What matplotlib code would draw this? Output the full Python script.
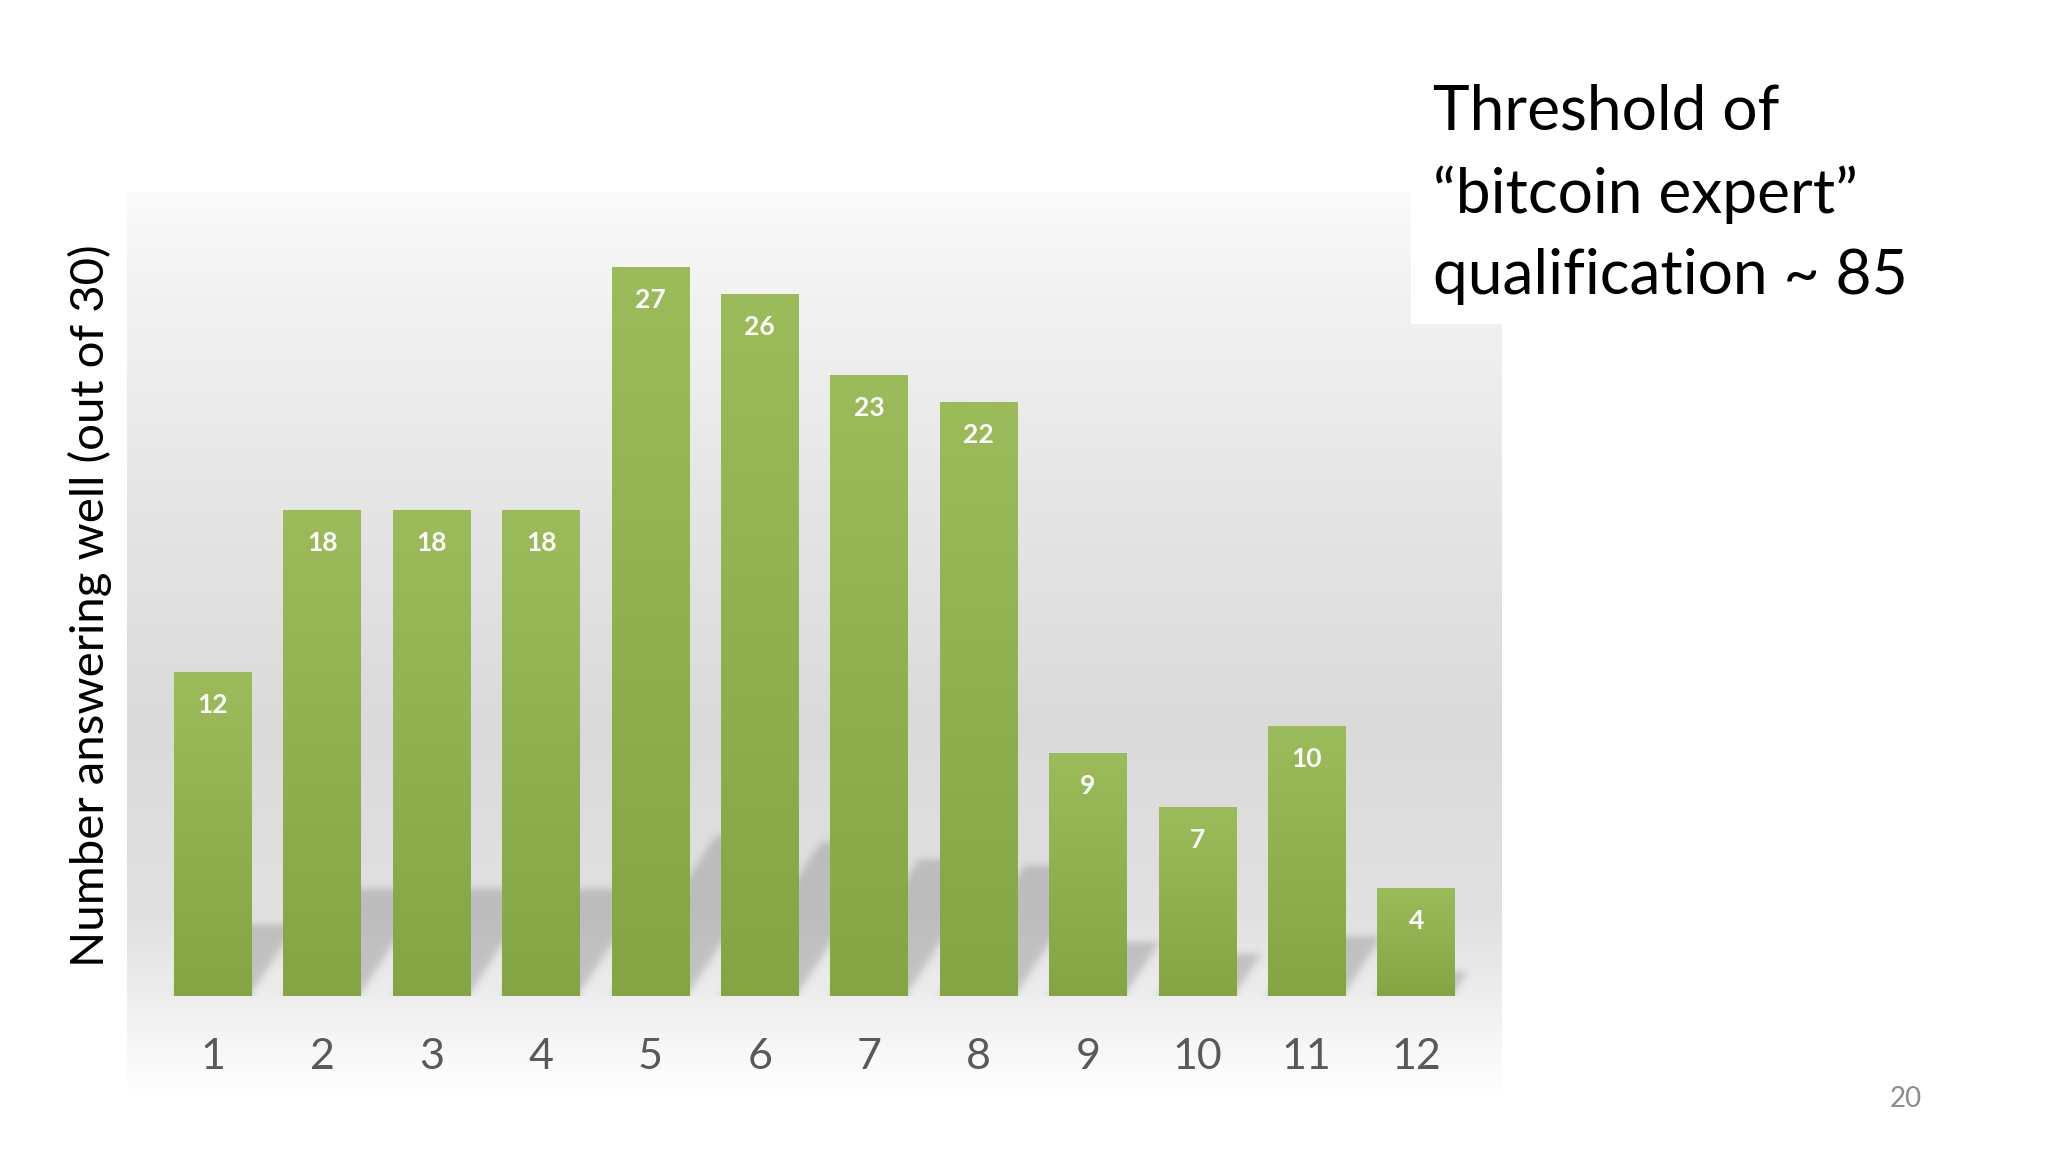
import numpy as np
import matplotlib
matplotlib.use("Agg")
import matplotlib.pyplot as plt
from matplotlib.colors import LinearSegmentedColormap
from matplotlib.patches import Rectangle

# ---------------- data ----------------
categories = ["1", "2", "3", "4", "5", "6", "7", "8", "9", "10", "11", "12"]
values = [12, 18, 18, 18, 27, 26, 23, 22, 9, 7, 10, 4]
ylabel_text = "Number answering well (out of 30)"
title_lines = ["Threshold of", "\u201cbitcoin expert\u201d", "qualification ~ 85"]
page_number = "20"

# ---------------- figure ----------------
W, H = 2048, 1152
plt.rcParams['font.family'] = ['Lato', 'DejaVu Sans']
fig = plt.figure(figsize=(W / 100, H / 100), dpi=100)
fig.patch.set_facecolor("white")


def fx(px):
    return px / W


def fy(py):
    return 1 - py / H


# background panel with vertical gradient
panel_l, panel_r, panel_t, panel_b = 127, 1502, 192, 1100
bg = fig.add_axes([fx(panel_l), fy(panel_b), fx(panel_r) - fx(panel_l), fy(panel_t) - fy(panel_b)])
stops = [(0.0, "#fbfbfb"), (0.08, "#f4f4f4"), (0.37, "#e4e4e4"), (0.59, "#dadada"),
         (0.80, "#e1e1e1"), (0.89, "#eeeeee"), (0.955, "#f9f9f9"), (1.0, "#ffffff")]
bg_cmap = LinearSegmentedColormap.from_list("bg", stops)
grad = np.linspace(0, 1, 512).reshape(-1, 1)
bg.imshow(grad, cmap=bg_cmap, aspect="auto", extent=[0, 1, 0, 1], origin="upper",
          interpolation="bilinear")
bg.set_axis_off()
bg.set_zorder(0)

# main axes
ax_top, ax_bot = 186, 996
ax = fig.add_axes([fx(panel_l), fy(ax_bot), fx(panel_r) - fx(panel_l), fy(ax_top) - fy(ax_bot)])
ax.set_zorder(1)
ax.patch.set_alpha(0)
xpos = np.arange(1, len(categories) + 1)
xlim = (0.215, 12.785)
ylim = (0, 30)
bar_w = 0.71

# soft skewed shadows behind bars
nx, ny = 1400, 320
ys_max = 10.0
gx = np.linspace(xlim[0], xlim[1], nx)
gy = np.linspace(0, ys_max, ny)
X, Y = np.meshgrid(gx, gy)
mask = np.zeros_like(X)
k_h = 0.22      # shadow height relative to bar height
skew = 0.16     # horizontal shift (x units) per y unit
for xc, h in zip(xpos, values):
    hs = k_h * h
    x0 = xc - bar_w / 2 + skew * Y
    x1 = xc + bar_w / 2 - 0.02 + skew * Y
    inside = (Y <= hs) & (X >= x0) & (X <= x1)
    mask = np.maximum(mask, inside.astype(float))


def blur(a, sigma, axis):
    r = int(3 * sigma)
    k = np.exp(-0.5 * (np.arange(-r, r + 1) / sigma) ** 2)
    k /= k.sum()
    return np.apply_along_axis(lambda v: np.convolve(np.pad(v, r, mode="edge"), k, mode="valid"), axis, a)


mask = blur(mask, 4, 1)
mask = blur(mask, 4, 0)
rgba = np.zeros((ny, nx, 4))
rgba[..., :3] = 0.55
rgba[..., 3] = mask * 0.42
ax.imshow(rgba, extent=[xlim[0], xlim[1], 0, ys_max], origin="lower", aspect="auto",
          zorder=1, interpolation="bilinear")

# bars with vertical gradient
bars = ax.bar(xpos, values, width=bar_w, color="#92b150", zorder=2, linewidth=0)
bar_cmap = LinearSegmentedColormap.from_list("bar", ["#85a444", "#9cbb5a"])
g2 = np.linspace(0, 1, 256).reshape(-1, 1)
for b in bars:
    x0 = b.get_x()
    im = ax.imshow(g2, cmap=bar_cmap, extent=[x0, x0 + b.get_width(), 0, b.get_height()],
                   origin="lower", aspect="auto", zorder=3, interpolation="bilinear")
    im.set_clip_path(b)

# value labels
for xc, h in zip(xpos, values):
    ax.annotate(str(h), xy=(xc, h), xytext=(0, -24), textcoords="offset points",
                ha="center", va="center", color="white", fontsize=19, fontweight="bold",
                zorder=5)

ax.set_xlim(*xlim)
ax.set_ylim(*ylim)
ax.set_xticks(xpos)
ax.set_xticklabels(categories)
ax.set_yticks([])
ax.tick_params(axis="x", length=0, pad=30, labelsize=31, labelcolor="#595959")
for s in ax.spines.values():
    s.set_visible(False)

# white box behind title text (covers top-right corner of panel)
fig.patches.append(Rectangle((fx(1411), fy(324)), 1 - fx(1411), 1 - fy(324),
                             transform=fig.transFigure, facecolor="white",
                             edgecolor="none", zorder=2))

renderer = fig.canvas.get_renderer()


def fit(t, target, vertical=False):
    ext = t.get_window_extent(renderer)
    cur = ext.height if vertical else ext.width
    t.set_fontsize(t.get_fontsize() * target / cur)


# title lines
baselines = [130, 213, 294]
tlist = []
for line, by in zip(title_lines, baselines):
    tt = fig.text(fx(1433), fy(by), line, ha="left", va="baseline", fontsize=48,
                  color="black", zorder=5)
    tlist.append(tt)
fit(tlist[2], 475)
for tt in tlist[:2]:
    tt.set_fontsize(tlist[2].get_fontsize())

# y label
yl = fig.text(fx(90), fy(606), ylabel_text, rotation=90, ha="center", va="center",
              fontsize=40, color="black")
fit(yl, 722, vertical=True)

# page number
fig.text(fx(1906), fy(1099), page_number, ha="center", va="center", fontsize=20,
         color="#8c8c8c")

fig.savefig("out.png", dpi=100, facecolor="white")
